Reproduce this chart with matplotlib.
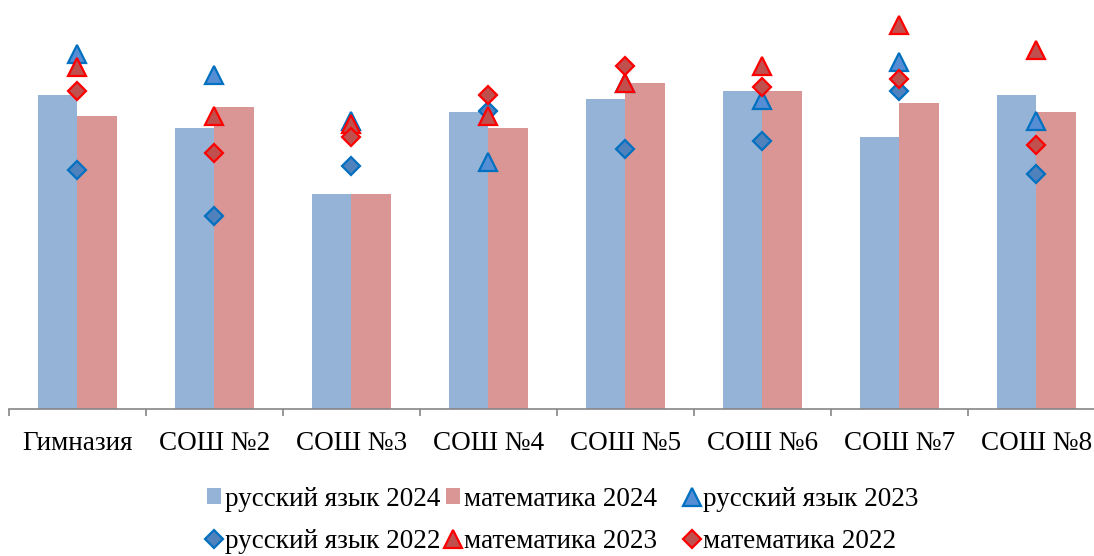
import matplotlib
matplotlib.use("Agg")
import matplotlib.pyplot as plt
import numpy as np

categories = ["Гимназия", "СОШ №2", "СОШ №3", "СОШ №4", "СОШ №5", "СОШ №6", "СОШ №7", "СОШ №8"]

rus_2024 = [314, 281, 215, 297, 310, 318, 272, 314]
mat_2024 = [293, 302, 215, 281, 326, 318, 306, 297]
rus_2023 = [355, 334.5, 288.5, 247.5, 326, 309, 347, 288.5]
rus_2022 = [239, 193.5, 243.5, 298, 260, 268.5, 318, 235.5]
mat_2023 = [342, 293, 285, 293, 326, 342.7, 384, 359]
mat_2022 = [318, 256, 272, 314, 343, 322, 330.5, 264]

plt.rcParams['font.family'] = ['Liberation Serif', 'DejaVu Serif']

W, H = 1094, 556
fig = plt.figure(figsize=(W / 100, H / 100), dpi=100)
ax = fig.add_axes([9/W, (H-409)/H, 1096/W, 409/H])

x = np.arange(len(categories))
bw = 0.285
b1 = ax.bar(x - bw/2, rus_2024, width=bw, color="#95B3D7", label="русский язык 2024", zorder=2)
b2 = ax.bar(x + bw/2, mat_2024, width=bw, color="#D99694", label="математика 2024", zorder=2)

l1, = ax.plot(x, rus_2023, linestyle="none", marker="^", markersize=13, markerfacecolor="#558ED5",
              markeredgecolor="#0070C0", markeredgewidth=1.6, label="русский язык 2023", zorder=3)
l2, = ax.plot(x, rus_2022, linestyle="none", marker="D", markersize=9.5, markerfacecolor="#4F81BD",
              markeredgecolor="#0070C0", markeredgewidth=1.6, label="русский язык 2022", zorder=4)
l3, = ax.plot(x, mat_2023, linestyle="none", marker="^", markersize=13, markerfacecolor="#C0504D",
              markeredgecolor="#FF0000", markeredgewidth=1.6, label="математика 2023", zorder=5)
l4, = ax.plot(x, mat_2022, linestyle="none", marker="D", markersize=9.5, markerfacecolor="#C0504D",
              markeredgecolor="#FF0000", markeredgewidth=1.6, label="математика 2022", zorder=6)

ax.set_xlim(-0.5, len(categories) - 0.5)
ax.set_ylim(0, 409)
for s in ["top", "right", "left"]:
    ax.spines[s].set_visible(False)
ax.spines["bottom"].set_color("#868686")
ax.spines["bottom"].set_linewidth(1.2)
ax.set_yticks([])
ax.set_xticks(x)
ax.set_xticklabels(categories, fontsize=19.5)
ax.tick_params(axis="x", which="major", length=0, pad=16)
ax.set_xticks(np.arange(-0.5, len(categories) + 0.5, 1), minor=True)
ax.tick_params(axis="x", which="minor", length=5, width=1.2, color="#868686", direction="out")

# Legend laid out like Excel: equal-width columns, two rows
entries = [b1, b2, l1, l2, l3, l4]
col_x = [207, 446, 685]   # left edge of handle, px
row_y = [499, 541]        # vertical centre, px
for i, h in enumerate(entries):
    r, c = divmod(i, 3)
    fig.legend([h], [h.get_label()], loc="center left",
               bbox_to_anchor=(col_x[c] / W, 1 - row_y[r] / H),
               frameon=False, fontsize=19.5, handlelength=0.5, handleheight=0.5,
               handletextpad=0.15, borderaxespad=0, borderpad=0)

fig.savefig("out.png", dpi=100)
